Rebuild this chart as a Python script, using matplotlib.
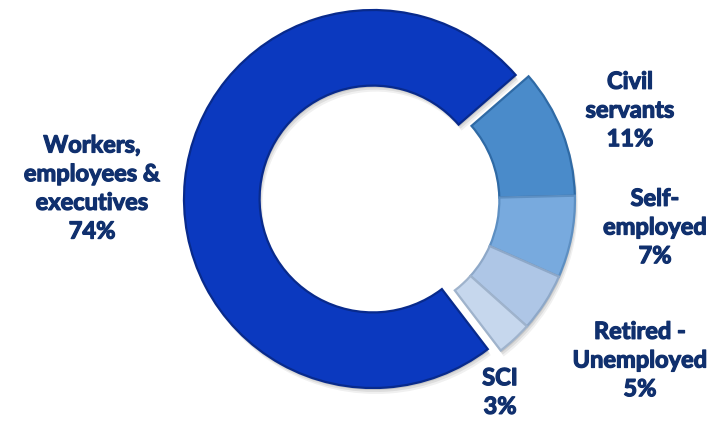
import numpy as np
import matplotlib.pyplot as plt
import matplotlib.patheffects as pe

# sample composition by occupation
labels = ['Workers,\nemployees &\nexecutives\n74%', 'Civil\nservants\n11%', 'Self-\nemployed\n7%',
          'Retired -\nUnemployed\n5%', 'SCI\n3%']
shares = [74, 11, 7, 5, 3]
colors = ['#0b39bf', '#4a8bca', '#78aade', '#aec6e6', '#c6d7ed']
edges = ['#082a8c', '#2f6aa5', '#5d8fc2', '#8ea8c8', '#9fb3cc']

# label anchor points in pixels (y measured from the top)
label_xy = [(92, 188), (630, 110), (655, 227), (640, 360), (500, 392)]

W, H = 720, 426
fig = plt.figure(figsize=(W / 100, H / 100), dpi=100)
ax = fig.add_axes([0, 0, 1, 1])
ax.set_aspect('equal')

cx, cy, R = 373, H - 199, 189
end_main = 41
start = end_main + shares[0] * 3.6

# the small slices are pulled out together along their common bisector
mid = np.radians(end_main - (100 - shares[0]) * 3.6 / 2)
shift = 13
dx, dy = shift * np.cos(mid), shift * np.sin(mid)


def donut(x0, y0, **kw):
    ws, _ = ax.pie(shares, radius=R, center=(x0, y0), startangle=start,
                   counterclock=False, frame=True, **kw)
    for w in ws[1:]:
        w.set_center((x0 + dx, y0 + dy))
    return ws


# soft drop shadow
for k, a in [(6, 0.06), (4, 0.08), (2, 0.1)]:
    donut(cx + k * 0.5, cy - k,
          wedgeprops=dict(width=R * 0.4, facecolor='black', alpha=a, linewidth=0))

wedges = donut(cx, cy, colors=colors, wedgeprops=dict(width=R * 0.4, linewidth=1.6))
for w, ec in zip(wedges, edges):
    w.set_edgecolor(ec)

ax.set_xlim(0, W)
ax.set_ylim(0, H)
ax.axis('off')

for txt, (x, y) in zip(labels, label_xy):
    ax.text(x, H - y, txt, ha='center', va='center', fontsize=17, fontweight='bold',
            family='Lato', color='#10306e', linespacing=1.3,
            path_effects=[pe.withStroke(linewidth=0.9, foreground='#10306e')])

fig.savefig('out.png', dpi=100)
